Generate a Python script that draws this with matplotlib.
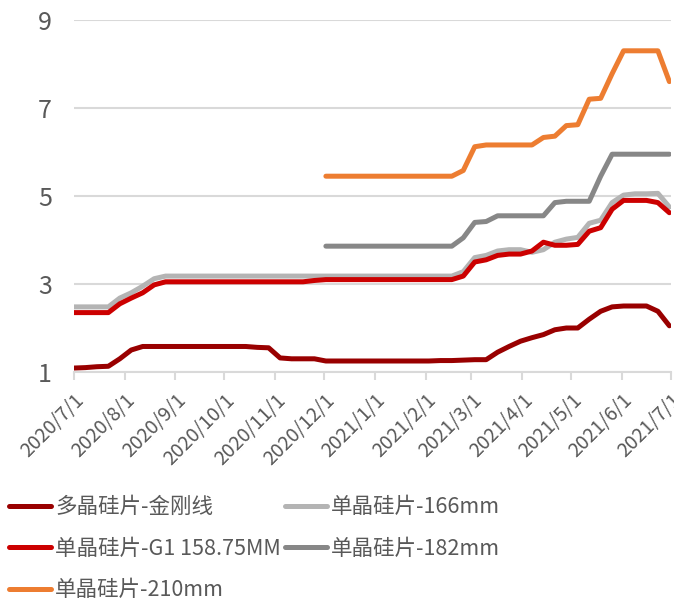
import matplotlib
matplotlib.use("Agg")
import matplotlib.pyplot as plt
import matplotlib.dates as mdates
from matplotlib import font_manager
import numpy as np
import pandas as pd

plt.rcParams['font.family'] = ['Noto Sans CJK SC', 'DejaVu Sans']
installed = {f.name for f in font_manager.fontManager.ttflist}
narrow = ['Liberation Sans Narrow'] if 'Liberation Sans Narrow' in installed else []
fam = narrow + ['Noto Sans CJK SC', 'DejaVu Sans']

# weekly prices (yuan / piece), 2020/7/1 .. 2021/6/30
dates = pd.date_range('2020-07-01', periods=53, freq='7D')
nan = np.nan

poly = [1.09, 1.10, 1.12, 1.13, 1.30, 1.50, 1.58, 1.58, 1.58, 1.58,
        1.58, 1.58, 1.58, 1.58, 1.58, 1.58, 1.56, 1.55, 1.32, 1.30,
        1.30, 1.30, 1.25, 1.25, 1.25, 1.25, 1.25, 1.25, 1.25, 1.25,
        1.25, 1.25, 1.26, 1.26, 1.27, 1.28, 1.28, 1.45, 1.58, 1.70,
        1.78, 1.85, 1.96, 2.00, 2.00, 2.20, 2.38, 2.48, 2.50, 2.50,
        2.50, 2.38, 2.05]

g1 = [2.35, 2.35, 2.35, 2.35, 2.55, 2.68, 2.80, 2.98, 3.05, 3.05,
      3.05, 3.05, 3.05, 3.05, 3.05, 3.05, 3.05, 3.05, 3.05, 3.05,
      3.05, 3.08, 3.10, 3.10, 3.10, 3.10, 3.10, 3.10, 3.10, 3.10,
      3.10, 3.10, 3.10, 3.10, 3.18, 3.50, 3.55, 3.65, 3.68, 3.68,
      3.75, 3.95, 3.88, 3.88, 3.90, 4.20, 4.28, 4.70, 4.90, 4.90,
      4.90, 4.85, 4.62]

m166 = [2.48, 2.48, 2.48, 2.48, 2.68, 2.80, 2.95, 3.12, 3.18, 3.18,
        3.18, 3.18, 3.18, 3.18, 3.18, 3.18, 3.18, 3.18, 3.18, 3.18,
        3.18, 3.18, 3.18, 3.18, 3.18, 3.18, 3.18, 3.18, 3.18, 3.18,
        3.18, 3.18, 3.18, 3.18, 3.28, 3.60, 3.65, 3.75, 3.78, 3.78,
        3.72, 3.78, 3.95, 4.02, 4.06, 4.38, 4.45, 4.85, 5.02, 5.05,
        5.05, 5.06, 4.75]

m182 = [nan] * 22 + [
        3.86, 3.86, 3.86, 3.86, 3.86, 3.86, 3.86, 3.86, 3.86, 3.86,
        3.86, 3.86, 4.05, 4.40, 4.42, 4.55, 4.55, 4.55, 4.55, 4.55,
        4.85, 4.88, 4.88, 4.88, 5.45, 5.95, 5.95, 5.95, 5.95, 5.95,
        5.95]

m210 = [nan] * 22 + [
        5.45, 5.45, 5.45, 5.45, 5.45, 5.45, 5.45, 5.45, 5.45, 5.45,
        5.45, 5.45, 5.58, 6.12, 6.16, 6.16, 6.16, 6.16, 6.16, 6.33,
        6.36, 6.60, 6.62, 7.20, 7.22, 7.78, 8.30, 8.30, 8.30, 8.30,
        7.60]

tick_dates = pd.date_range('2020-07-01', '2021-07-01', freq='MS')
yticks = [1, 3, 5, 7, 9]

txt = '#595959'
grid = '#d9d9d9'

fig = plt.figure(figsize=(6.74, 6.06), dpi=100)
ax = fig.add_axes([74 / 674, 1 - 372 / 606, 597 / 674, 352 / 606])

lw = 3.6
l_poly, = ax.plot(dates, poly, color='#990000', lw=lw, zorder=5, label='多晶硅片-金刚线')
l_166, = ax.plot(dates, m166, color='#b4b4b4', lw=lw, zorder=3, label='单晶硅片-166mm')
l_g1, = ax.plot(dates, g1, color='#cc0000', lw=lw, zorder=4, label='单晶硅片-G1 158.75MM')
l_182, = ax.plot(dates, m182, color='#878787', lw=lw, zorder=3, label='单晶硅片-182mm')
l_210, = ax.plot(dates, m210, color='#ed7d31', lw=lw, zorder=3, label='单晶硅片-210mm')
for l in (l_poly, l_166, l_g1, l_182, l_210):
    l.set_solid_capstyle('round')
    l.set_solid_joinstyle('round')

ax.set_xlim(tick_dates[0], tick_dates[-1])
ax.set_ylim(1, 9)
ax.set_yticks(yticks)
ax.yaxis.grid(True, color=grid, lw=1.5)
ax.set_axisbelow(True)
for s in ('top', 'right', 'left'):
    ax.spines[s].set_visible(False)
ax.spines['bottom'].set_color(grid)
ax.spines['bottom'].set_linewidth(1.5)

ax.set_xticks(tick_dates)
ax.xaxis.set_major_formatter(mdates.DateFormatter('%Y/%-m/%-d'))
ax.tick_params(axis='x', colors=grid, length=6, width=1.5, labelcolor=txt,
               labelsize=16 if narrow else 14, pad=7)
ax.tick_params(axis='y', length=0, labelcolor=txt,
               labelsize=21 if narrow else 18, pad=16)
for lab in ax.get_xticklabels():
    lab.set_rotation(45)
    lab.set_ha('right')
    lab.set_rotation_mode('anchor')
    lab.set_family(fam)
for lab in ax.get_yticklabels():
    lab.set_family(fam)

handles = [l_poly, l_g1, l_210, l_166, l_182]
leg = fig.legend(handles=handles, labels=[h.get_label() for h in handles],
                 ncol=2, loc='upper left', bbox_to_anchor=(0.0, 0.195),
                 frameon=False, fontsize=15.5, handlelength=1.95,
                 handletextpad=0.2, columnspacing=0.2, labelspacing=0.9,
                 borderaxespad=0)
for t in leg.get_texts():
    t.set_color(txt)

fig.savefig('out.png', dpi=100)
